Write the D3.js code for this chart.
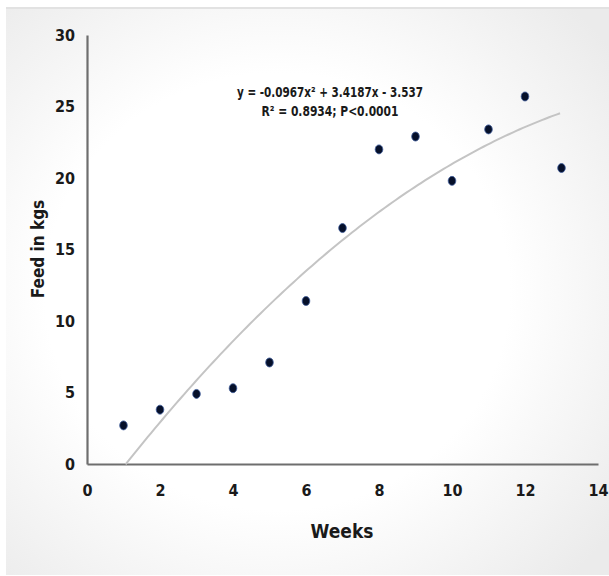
<!DOCTYPE html>
<html lang="en">
<head>
  <meta charset="UTF-8">
  <title>Feed in kgs vs Weeks</title>
  <script src="https://cdn.jsdelivr.net/npm/d3@7"></script>
  <style>
    body { margin: 0; background: #fff; }
    text { font-family: 'DejaVu Sans Condensed', 'Liberation Sans Narrow', 'Roboto', sans-serif; font-weight: bold; fill: #1a1a1a; }
  </style>
</head>
<body>
<div id="chart"></div>
<script>
  // data
  const weeks = [1, 2, 3, 4, 5, 6, 7, 8, 9, 10, 11, 12, 13];
  const feed = [2.7, 3.8, 4.9, 5.3, 7.1, 11.4, 16.5, 22.0, 22.9, 19.8, 23.4, 25.7, 20.7];
  const xTicks = [0, 2, 4, 6, 8, 10, 12, 14];
  const yTicks = [0, 5, 10, 15, 20, 25, 30];
  const coef = [-0.0967, 3.4187, -3.537];
  const eqLines = ["y = -0.0967x\u00b2 + 3.4187x - 3.537", "R\u00b2 = 0.8934; P<0.0001"];

  const W = 609, H = 576;
  const svg = d3.select("#chart").append("svg")
    .attr("width", W).attr("height", H);

  // soft panel background
  const defs = svg.append("defs");
  const grad = defs.append("radialGradient").attr("id", "bg")
    .attr("cx", "45%").attr("cy", "50%").attr("r", "70%");
  grad.append("stop").attr("offset", "55%").attr("stop-color", "#ffffff");
  grad.append("stop").attr("offset", "100%").attr("stop-color", "#ebebeb");
  svg.append("rect").attr("x", 6).attr("y", 8).attr("width", W - 6).attr("height", H - 9)
    .attr("fill", "url(#bg)");
  svg.append("line").attr("x1", 6).attr("x2", W).attr("y1", 8).attr("y2", 8)
    .attr("stroke", "#e2e2e2").attr("stroke-width", 2);

  const x = d3.scaleLinear().domain([0, 14]).range([87, 598]);
  const y = d3.scaleLinear().domain([0, 30]).range([464, 35]);

  // axes
  const xAxis = svg.append("g").attr("transform", `translate(0,${y(0)})`)
    .call(d3.axisBottom(x).tickValues(xTicks).tickSize(0).tickPadding(21));
  const yAxis = svg.append("g").attr("transform", `translate(${x(0)},0)`)
    .call(d3.axisLeft(y).tickValues(yTicks).tickSize(0).tickPadding(12));
  [xAxis, yAxis].forEach(a => {
    a.select(".domain").attr("stroke", "#6e6e6e").attr("stroke-width", 2.2);
    a.selectAll("text").style("font-size", "16px").attr("fill", "#1a1a1a");
  });

  // trend line
  const fx = d3.range(1.06, 13.001, 0.1).map(v => [v, coef[0] * v * v + coef[1] * v + coef[2]]);
  svg.append("path")
    .datum(fx)
    .attr("fill", "none")
    .attr("stroke", "#c4c4c4")
    .attr("stroke-width", 2)
    .attr("d", d3.line().x(d => x(d[0])).y(d => y(d[1])).curve(d3.curveMonotoneX));

  // points
  svg.append("g").selectAll("ellipse")
    .data(weeks)
    .enter()
    .append("ellipse")
    .attr("cx", (d, i) => x(d))
    .attr("cy", (d, i) => y(feed[i]))
    .attr("rx", 3.8).attr("ry", 4.5)
    .attr("fill", "#06102a")
    .attr("stroke", "#3d5c9c")
    .attr("stroke-width", 0.8);

  // equation
  const eqWidths = [186, 137];
  svg.append("g").selectAll("text")
    .data(eqLines)
    .enter()
    .append("text")
    .attr("x", 330)
    .attr("y", (d, i) => 97 + i * 19)
    .attr("text-anchor", "middle")
    .attr("textLength", (d, i) => eqWidths[i])
    .attr("lengthAdjust", "spacingAndGlyphs")
    .style("font-size", "14px")
    .text(d => d);

  // axis titles
  svg.append("text")
    .attr("x", 342).attr("y", 538)
    .attr("text-anchor", "middle")
    .style("font-size", "19px")
    .text("Weeks");

  svg.append("text")
    .attr("transform", `translate(44,249) rotate(-90)`)
    .attr("text-anchor", "middle")
    .style("font-size", "17px")
    .text("Feed in kgs");
</script>
</body>
</html>
